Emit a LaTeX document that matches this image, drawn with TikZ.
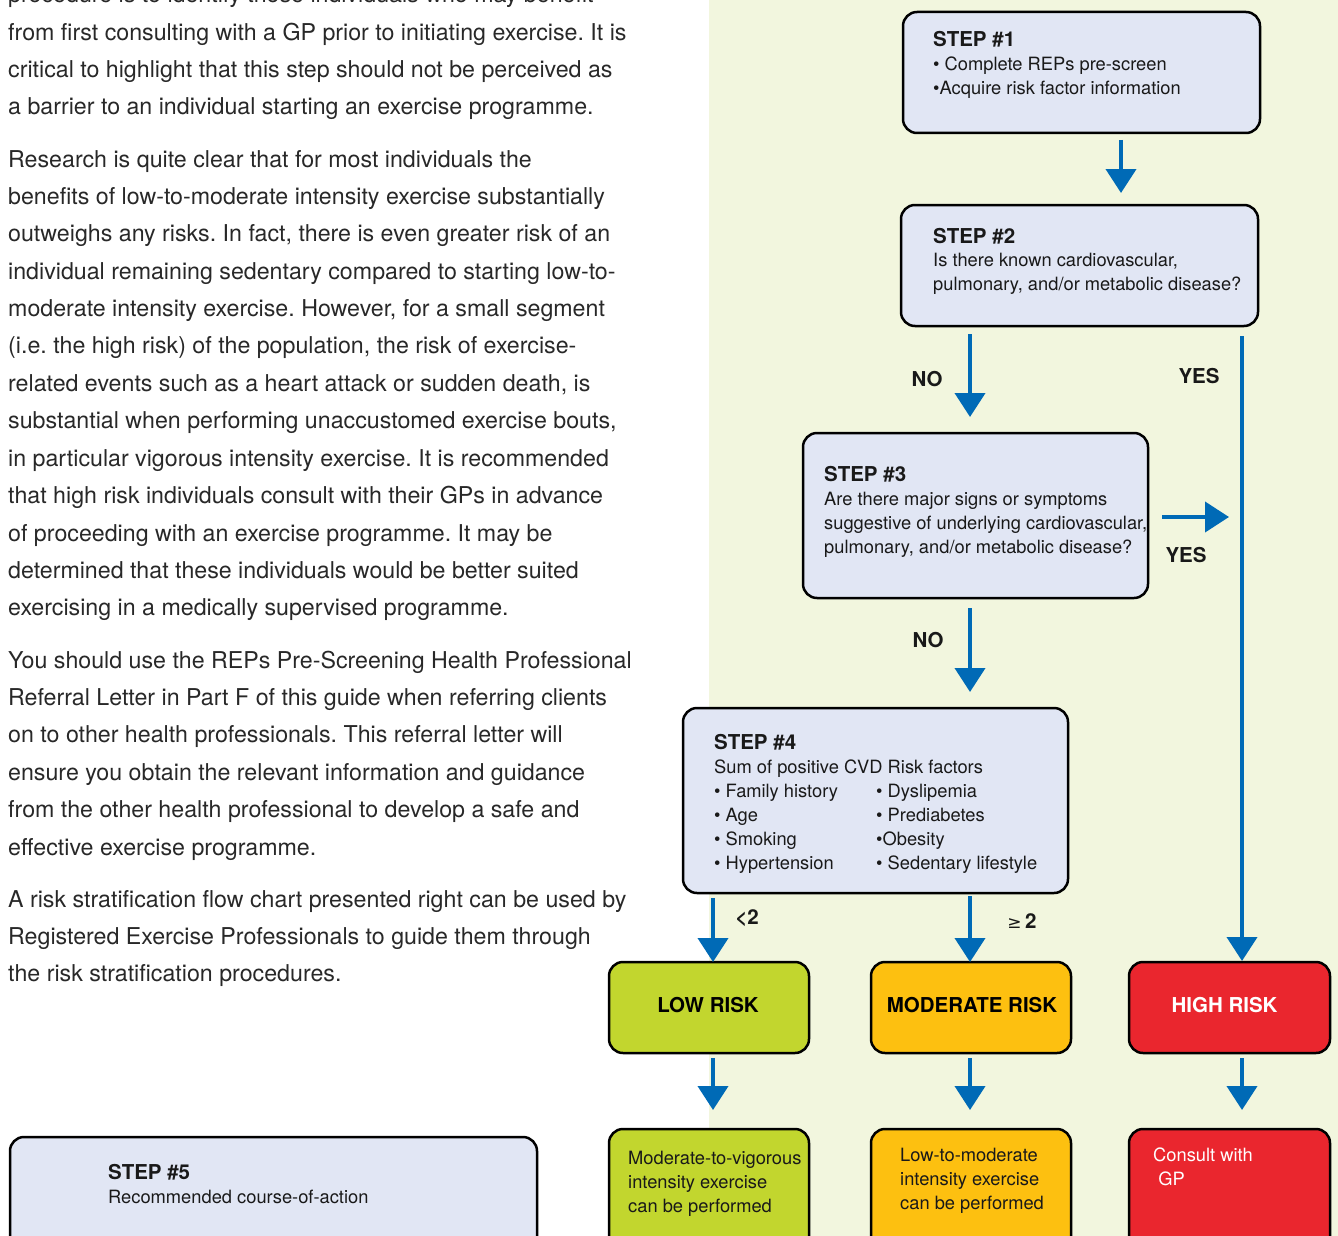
\documentclass[tikz,border=0pt]{standalone}
\usepackage{fontspec}
\setmainfont{TeX Gyre Heros}
\newfontfamily\dejavu{DejaVu Sans}
\usetikzlibrary{arrows.meta,calc}
\definecolor{bgreen}{RGB}{242,246,222}
\definecolor{boxblue}{RGB}{225,230,244}
\definecolor{arrblue}{RGB}{0,106,182}
\definecolor{lowc}{RGB}{194,214,46}
\definecolor{modc}{RGB}{253,192,16}
\definecolor{highc}{RGB}{234,38,46}
\definecolor{txt}{RGB}{40,40,40}
\definecolor{btxt}{RGB}{25,25,25}
\newcommand\lin[1]{\hbox{#1}}
\frenchspacing
\begin{document}
\begin{tikzpicture}[x=1pt,y=-1pt,
  box/.style={draw=black, line width=2.5pt, rounded corners=14pt, anchor=north west, inner sep=0pt, outer sep=0pt, fill=boxblue},
  arr/.style={draw=arrblue, line width=4pt, -{Triangle[width=30pt,length=24pt]}},
  para/.style={anchor=base west, inner sep=0pt, text=txt, font=\fontsize{23.2}{37.4}\selectfont},
  hd/.style={anchor=base west, inner sep=0pt, text=btxt, font=\bfseries\fontsize{20.5}{24}\selectfont},
  bt/.style={anchor=base west, inner sep=0pt, text=btxt, font=\fontsize{18.3}{24}\selectfont},
  lbl/.style={inner sep=0pt, text=btxt, font=\bfseries\fontsize{20.5}{24}\selectfont},
  risk/.style={lbl, text=black}
]
\useasboundingbox (0,0) rectangle (1338,1236);
\clip (0,0) rectangle (1338,1236);
\fill[bgreen] (709,0) rectangle (1338,1236);

% left text
\node[para] (p1) at (8,2.8) {\vtop{%
\lin{procedure is to identify those individuals who may benefit}
\lin{from first consulting with a GP prior to initiating exercise. It is}
\lin{critical to highlight that this step should not be perceived as}
\lin{a barrier to an individual starting an exercise programme.}}};
\node[para] (p2) at (8,167) {\vtop{%
\lin{Research is quite clear that for most individuals the}
\lin{benefits of low-to-moderate intensity exercise substantially}
\lin{outweighs any risks. In fact, there is even greater risk of an}
\lin{individual remaining sedentary compared to starting low-to-}
\lin{moderate intensity exercise. However, for a small segment}
\lin{(i.e. the high risk) of the population, the risk of exercise-}
\lin{related events such as a heart attack or sudden death, is}
\lin{substantial when performing unaccustomed exercise bouts,}
\lin{in particular vigorous intensity exercise. It is recommended}
\lin{that high risk individuals consult with their GPs in advance}
\lin{of proceeding with an exercise programme. It may be}
\lin{determined that these individuals would be better suited}
\lin{exercising in a medically supervised programme.}}};
\node[para] (p3) at (8,668) {\vtop{%
\lin{You should use the REPs Pre-Screening Health Professional}
\lin{Referral Letter in Part F of this guide when referring clients}
\lin{on to other health professionals. This referral letter will}
\lin{ensure you obtain the relevant information and guidance}
\lin{from the other health professional to develop a safe and}
\lin{effective exercise programme.}}};
\node[para] (p4) at (8,907) {\vtop{%
\lin{A risk stratification flow chart presented right can be used by}
\lin{Registered Exercise Professionals to guide them through}
\lin{the risk stratification procedures.}}};

% boxes
\node[box, minimum width=357pt, minimum height=121pt] (s1) at (903,12) {};
\node[box, minimum width=357pt, minimum height=121pt] (s2) at (901,205) {};
\node[box, minimum width=345pt, minimum height=165pt] (s3) at (803,433) {};
\node[box, minimum width=385pt, minimum height=185pt] (s4) at (683,708) {};
\node[box, minimum width=527pt, minimum height=125pt] (s5) at (10,1137) {};
\node[box, fill=lowc, minimum width=200pt, minimum height=91pt] (low) at (609,962) {};
\node[box, fill=modc, minimum width=200pt, minimum height=91pt] (mod) at (871,962) {};
\node[box, fill=highc, minimum width=201pt, minimum height=91pt] (high) at (1129,962) {};
\node[box, fill=lowc, minimum width=200pt, minimum height=125pt] (lowr) at (609,1129) {};
\node[box, fill=modc, minimum width=200pt, minimum height=125pt] (modr) at (871,1129) {};
\node[box, fill=highc, minimum width=201pt, minimum height=125pt] (highr) at (1129,1129) {};

% box texts
\node[hd] (s1h) at ($(s1.north west)+(30,35)$) {STEP \#1};
\node[bt] (s1b) at ($(s1.north west)+(30,58.5)$) {\vtop{\lin{\textbullet\ Complete REPs pre-screen}\lin{\textbullet Acquire risk factor information}}};
\node[hd] (s2h) at ($(s2.north west)+(32,38)$) {STEP \#2};
\node[bt] (s2b) at ($(s2.north west)+(32,61.5)$) {\vtop{\lin{Is there known cardiovascular,}\lin{pulmonary, and/or metabolic disease?}}};
\node[hd] (s3h) at ($(s3.north west)+(21,48)$) {STEP \#3};
\node[bt] (s3b) at ($(s3.north west)+(21,72.5)$) {\vtop{\lin{Are there major signs or symptoms}\lin{suggestive of underlying cardiovascular,}\lin{pulmonary, and/or metabolic disease?}}};
\node[hd] (s4h) at ($(s4.north west)+(31,41)$) {STEP \#4};
\node[bt] (s4b) at ($(s4.north west)+(31,65.5)$) {\vtop{\lin{Sum of positive CVD Risk factors}\lin{\textbullet\ Family history}\lin{\textbullet\ Age}\lin{\textbullet\ Smoking}\lin{\textbullet\ Hypertension}}};
\node[bt] (s4c) at ($(s4.north west)+(193,89.5)$) {\vtop{\lin{\textbullet\ Dyslipemia}\lin{\textbullet\ Prediabetes}\lin{\textbullet Obesity}\lin{\textbullet\ Sedentary lifestyle}}};
\node[hd] (s5h) at ($(s5.north west)+(98,42)$) {STEP \#5};
\node[bt] (s5b) at ($(s5.north west)+(98,66.5)$) {Recommended course-of-action};

\node[risk] (lowt) at ($(low.center)+(-1,-2)$) {LOW RISK};
\node[risk] (modt) at ($(mod.center)+(1,-2)$) {MODERATE RISK};
\node[risk, text=white] (hight) at ($(high.center)+(-5,-2)$) {HIGH RISK};

\node[bt] (lowrt) at ($(lowr.north west)+(19,35.5)$) {\vtop{\lin{Moderate-to-vigorous}\lin{intensity exercise}\lin{can be performed}}};
\node[bt] (modrt) at ($(modr.north west)+(29,32.5)$) {\vtop{\lin{Low-to-moderate}\lin{intensity exercise}\lin{can be performed}}};
\node[bt, text=white] (highrt) at ($(highr.north west)+(24,32.5)$) {\vtop{\lin{Consult with}\lin{\ GP}}};

% labels
\node[lbl] (no1) at (927,379) {NO};
\node[lbl] (yes1) at (1199,376) {YES};
\node[lbl] (yes2) at (1186,555) {YES};
\node[lbl] (no2) at (928,640) {NO};
\node[lbl] (lt2) at (747,918) {<2};
\node[lbl] (ge2) at (1022,921) {{\dejavu\mdseries\fontsize{17}{17}\selectfont ≥}\,2};

% arrows
\draw[arr] ($(s1.south west)+(218,7)$) -- ($(s2.north west)+(220,-12)$);
\draw[arr] ($(s2.south west)+(69,8)$) -- ($(s3.north west)+(167,-16)$);
\draw[arr] ($(s2.south east)+(-16,10)$) -- ($(high.north west)+(113,-1)$);
\draw[arr] ($(s3.east)+(14,1.5)$) -- ($(s3.east)+(81,1.5)$);
\draw[arr] ($(s3.south west)+(167,10)$) -- ($(s4.north west)+(287,-16)$);
\draw[arr] ($(s4.south west)+(30,5)$) -- ($(low.north west)+(104,0)$);
\draw[arr] ($(s4.south west)+(287,3)$) -- ($(mod.north west)+(99,0)$);
\draw[arr] ($(low.south west)+(104,5)$) -- ($(lowr.north west)+(104,-19)$);
\draw[arr] ($(mod.south west)+(99,5)$) -- ($(modr.north west)+(99,-19)$);
\draw[arr] ($(high.south west)+(113,5)$) -- ($(highr.north west)+(113,-19)$);
\end{tikzpicture}
\end{document}
